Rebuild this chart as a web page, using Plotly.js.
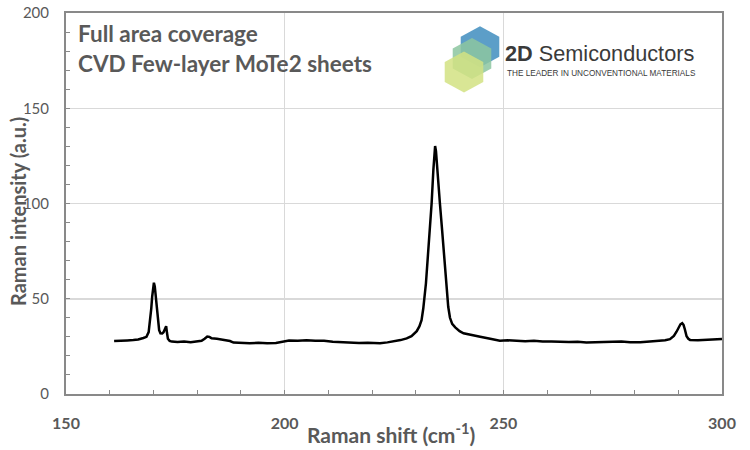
<!DOCTYPE html>
<html>
<head>
<meta charset="utf-8">
<script src="https://cdn.plot.ly/plotly-3.0.1.min.js"></script>
<style>html,body{margin:0;padding:0;background:#fff;}#chart{width:750px;height:450px;}</style>
</head>
<body>
<div id="chart"></div>
<script>
// Raman shift (cm^-1)
const shift = [161.0,162.0,163.1,164.0,165.4,166.5,167.7,168.4,168.9,169.2,169.5,169.7,169.9,170.1,170.3,170.6,170.8,171.0,171.3,171.6,172.0,172.3,172.6,172.9,173.1,173.3,173.7,174.2,175.5,177.0,178.5,180.0,181.0,181.7,182.3,182.8,183.3,184.5,186.0,187.5,188.3,190.0,192.0,194.0,196.0,198.0,199.5,201.0,203.0,205.0,207.0,209.0,211.0,213.0,215.0,217.0,219.0,221.8,223.5,225.0,226.5,227.9,229.0,230.2,230.8,231.3,231.7,232.3,232.9,233.3,233.6,234.0,234.2,234.4,234.6,234.9,235.2,235.5,236.0,236.7,237.1,237.4,237.8,238.3,239.0,240.0,240.9,242.5,244.7,247.0,249.2,251.0,253.0,255.0,257.0,259.0,261.0,263.0,265.0,267.0,269.0,271.0,273.0,275.0,277.0,279.0,281.3,283.5,285.8,287.0,288.1,289.0,289.6,290.1,290.5,290.9,291.2,291.5,291.9,292.3,292.7,294.5,296.5,298.3,300.0];
// Raman intensity (a.u.)
const intensity = [27.8,28.0,28.3,28.1,28.3,28.6,29.4,30.0,32.5,38.0,45.0,51.0,56.0,58.4,56.5,49.0,42.0,37.0,33.5,31.9,31.8,32.4,33.8,35.6,32.0,29.0,27.9,27.5,27.3,27.6,27.2,27.4,27.9,29.0,30.2,30.0,29.2,29.0,28.4,27.8,27.0,26.8,26.6,26.9,26.6,26.8,27.4,28.1,28.0,28.2,28.0,27.9,27.4,27.1,27.0,26.8,26.9,26.7,27.1,27.6,28.3,29.2,30.4,33.0,35.5,38.8,45.0,58.0,75.6,88.0,100.0,117.6,126.0,130.2,127.5,117.0,108.0,100.0,86.0,65.0,53.0,45.8,40.0,36.8,35.0,33.0,31.9,31.0,30.1,29.0,28.0,28.2,28.0,27.7,27.9,27.5,27.6,27.4,27.3,27.4,27.0,27.2,27.4,27.3,27.6,27.2,27.2,27.6,27.8,28.2,28.8,30.5,32.7,35.0,36.6,37.2,36.3,34.0,30.3,29.0,28.4,28.2,28.4,28.6,28.9];

const xTicks = [150, 200, 250, 300];
const yTicks = [0, 50, 100, 150, 200];
const noteLines = ["Full area coverage", "CVD Few-layer MoTe2 sheets"];
const logoName = "<b>2D</b> Semiconductors";
const logoTagline = "THE LEADER IN UNCONVENTIONAL MATERIALS";

// plot area in pixels (for placing decorative logo)
const L = 66, R = 722, T = 13, B = 394;
const px = x => (x - L) / (R - L);
const py = y => (B - y) / (B - T);
function hexPath(cx, cy) {
  const hw = 19.3, hs = 10, hv = 20.5;
  const pts = [[cx, cy - hv], [cx + hw, cy - hs], [cx + hw, cy + hs], [cx, cy + hv], [cx - hw, cy + hs], [cx - hw, cy - hs]];
  return 'M ' + pts.map(p => px(p[0]).toFixed(4) + ',' + py(p[1]).toFixed(4)).join(' L ') + ' Z';
}
const hexes = [
  {cx: 480, cy: 46.7, color: 'rgba(74,148,194,0.9)'},
  {cx: 472, cy: 58.5, color: 'rgba(140,198,160,0.85)'},
  {cx: 464, cy: 72, color: 'rgba(210,226,130,0.85)'}
];

const grey = '#595959';
const trace = {
  x: shift, y: intensity, type: 'scatter', mode: 'lines',
  line: {color: '#000000', width: 2.5}, hoverinfo: 'x+y', showlegend: false
};

const layout = {
  width: 750, height: 450,
  margin: {l: L, r: 750 - R, t: T, b: 450 - B},
  paper_bgcolor: '#ffffff', plot_bgcolor: '#ffffff',
  font: {family: 'Lato, "Open Sans", sans-serif', color: grey},
  xaxis: {
    range: [150, 300], tickvals: xTicks, ticktext: xTicks.map(String),
    showgrid: true, gridcolor: '#d9d9d9', gridwidth: 1.5,
    showline: true, linecolor: '#898989', linewidth: 2, mirror: true,
    ticks: 'inside', ticklen: 4, tickcolor: '#898989',
    minor: {dtick: 10, ticks: 'inside', ticklen: 4, tickcolor: '#898989', showgrid: false},
    tickfont: {size: 16, color: grey, family: 'Lato', weight: 'bold'},
    ticklabelstandoff: 14, zeroline: false, fixedrange: true
  },
  yaxis: {
    range: [0, 200], tickvals: yTicks, ticktext: yTicks.map(String),
    showgrid: true, gridcolor: '#d9d9d9', gridwidth: 1.5,
    showline: true, linecolor: '#898989', linewidth: 2, mirror: true,
    ticks: 'inside', ticklen: 4, tickcolor: '#898989',
    minor: {dtick: 10, ticks: 'inside', ticklen: 4, tickcolor: '#898989', showgrid: false},
    tickfont: {size: 15, color: grey, family: 'Lato'},
    ticklabelstandoff: 12, zeroline: false, fixedrange: true
  },
  shapes: hexes.map(h => ({type: 'path', xref: 'paper', yref: 'paper', path: hexPath(h.cx, h.cy), fillcolor: h.color, line: {width: 0}, layer: 'above'})),
  annotations: [
    {text: '<b>' + noteLines[0] + '</b>', xref: 'paper', yref: 'paper', x: px(76), y: py(33), xanchor: 'left', yanchor: 'middle', showarrow: false, font: {size: 22.5, color: grey, family: 'Lato'}},
    {text: '<b>' + noteLines[1] + '</b>', xref: 'paper', yref: 'paper', x: px(76), y: py(63), xanchor: 'left', yanchor: 'middle', showarrow: false, font: {size: 22.5, color: grey, family: 'Lato'}},
    {text: logoName, xref: 'paper', yref: 'paper', x: px(503), y: py(53), xanchor: 'left', yanchor: 'middle', showarrow: false, font: {size: 21.7, color: '#3a3a3a', family: '"Liberation Sans", Arial, sans-serif'}},
    {text: logoTagline, xref: 'paper', yref: 'paper', x: px(505), y: py(73), xanchor: 'left', yanchor: 'middle', showarrow: false, font: {size: 8.2, color: '#3a3a3a', family: '"Liberation Sans", Arial, sans-serif'}},
    {text: '<b>Raman shift (cm<sup>-1</sup>)</b>', xref: 'paper', yref: 'paper', x: px(391), y: py(433), xanchor: 'center', yanchor: 'middle', showarrow: false, font: {size: 21, color: grey, family: 'Lato'}},
    {text: '<b>Raman intensity (a.u.)</b>', xref: 'paper', yref: 'paper', x: px(18), y: py(212), xanchor: 'center', yanchor: 'middle', textangle: -90, showarrow: false, font: {size: 20, color: grey, family: 'Lato'}}
  ]
};

Plotly.newPlot('chart', [trace], layout, {displayModeBar: false, staticPlot: true});
</script>
</body>
</html>
